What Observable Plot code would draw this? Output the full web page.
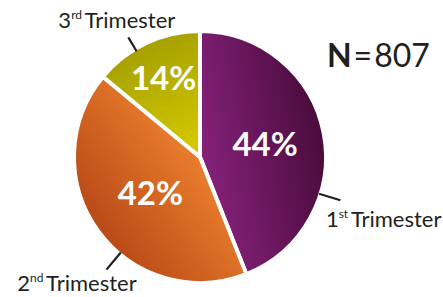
<!DOCTYPE html>
<html><head><meta charset="utf-8">
<script src="https://cdn.jsdelivr.net/npm/d3@7"></script>
<script src="https://cdn.jsdelivr.net/npm/@observablehq/plot@0.6"></script>
<style>body{margin:0;background:#fff}#chart svg{display:block}</style>
</head><body><div id="chart"></div>
<script>
// ---- data ----
const trimesters = ["1st Trimester", "2nd Trimester", "3rd Trimester"];
const ordinals = ["1", "2", "3"];
const suffixes = ["st", "nd", "rd"];
const shares = [44, 42, 14];
const sampleSize = 807;
const innerColors = ["#86217b", "#ea7e2d", "#d8cb00"];
const outerColors = ["#4a0c3c", "#ba4a17", "#a6a100"];

// ---- layout (not data) ----
const FONT = "Lato, 'Open Sans', sans-serif";
const pctRadius = [0.53, 0.5, 0.7];
const leaderAngle = [107, 220, 329];      // degrees clockwise from top
const leaderOuter = [1.18, 1.18, 1.13];
const labelOffset = [[-14, 27, "start"], [-29, 22, "middle"], [-11, -9, "middle"]];
const nPos = [1.024, 0.726];

const data = trimesters.map((t, i) => ({name: t, ord: ordinals[i], suf: suffixes[i], share: shares[i], i}));
const arcs = d3.pie().sort(null).value(d => d.share)(data);
const rad = a => a * Math.PI / 180;
const pctPts = arcs.map((a, i) => {
  const m = (a.startAngle + a.endAngle) / 2;
  return {x: pctRadius[i] * Math.sin(m), y: pctRadius[i] * Math.cos(m), text: shares[i] + "%"};
});
const leaders = data.map((d, i) => ({
  x1: Math.sin(rad(leaderAngle[i])), y1: Math.cos(rad(leaderAngle[i])),
  x2: leaderOuter[i] * Math.sin(rad(leaderAngle[i])), y2: leaderOuter[i] * Math.cos(rad(leaderAngle[i]))
}));

function pieMark(index, scales) {
  const {x, y} = scales;
  const cx = x(0), cy = y(0), r = x(1) - x(0);
  const g = d3.create("svg:g");
  const defs = g.append("defs");
  arcs.forEach((a, i) => {
    const m = (a.startAngle + a.endAngle) / 2;
    const gr = defs.append("linearGradient").attr("id", "pg" + i)
      .attr("gradientUnits", "userSpaceOnUse")
      .attr("x1", 0).attr("y1", 0)
      .attr("x2", r * Math.sin(m)).attr("y2", -r * Math.cos(m));
    gr.append("stop").attr("offset", "0%").attr("stop-color", innerColors[i]);
    gr.append("stop").attr("offset", "100%").attr("stop-color", outerColors[i]);
  });
  g.append("g").attr("transform", `translate(${cx},${cy})`)
    .selectAll("path").data(arcs).join("path")
    .attr("d", d3.arc().innerRadius(0).outerRadius(r + 2))
    .attr("fill", (d, i) => `url(#pg${i})`)
    .attr("stroke", "#fff").attr("stroke-width", 4).attr("stroke-linejoin", "round");
  return g.node();
}

function labelMark(index, scales) {
  const {x, y} = scales;
  const g = d3.create("svg:g").attr("font-family", FONT).attr("fill", "#231f20");
  leaders.forEach((l, i) => {
    const [dx, dy, anchor] = labelOffset[i];
    const t = g.append("text").attr("x", x(l.x2) + dx).attr("y", y(l.y2) + dy)
      .attr("text-anchor", anchor).attr("font-size", 22);
    t.append("tspan").text(data[i].ord);
    t.append("tspan").attr("font-size", 12).attr("dy", -9).text(data[i].suf);
    t.append("tspan").attr("dy", 9).text("\u2009Trimester");
  });
  const n = g.append("text").attr("x", x(nPos[0])).attr("y", y(nPos[1]))
    .attr("text-anchor", "start").attr("font-size", 32);
  n.append("tspan").attr("font-weight", "bold").text("N");
  n.append("tspan").text("\u200a=\u200a" + sampleSize);
  return g.node();
}

const chart = Plot.plot({
  width: 443, height: 297,
  margin: 0,
  x: {domain: [-1.613, 1.96], axis: null},
  y: {domain: [-1.129, 1.266], axis: null},
  style: {background: "#fff"},
  marks: [
    pieMark,
    Plot.link(leaders, {x1: "x1", y1: "y1", x2: "x2", y2: "y2", stroke: "#231f20", strokeWidth: 2.2}),
    Plot.text(pctPts, {x: "x", y: "y", text: "text", fill: "#fff", fontSize: 33, fontWeight: "bold", fontFamily: FONT}),
    labelMark
  ]
});
document.getElementById("chart").appendChild(chart);
</script>
</body></html>
